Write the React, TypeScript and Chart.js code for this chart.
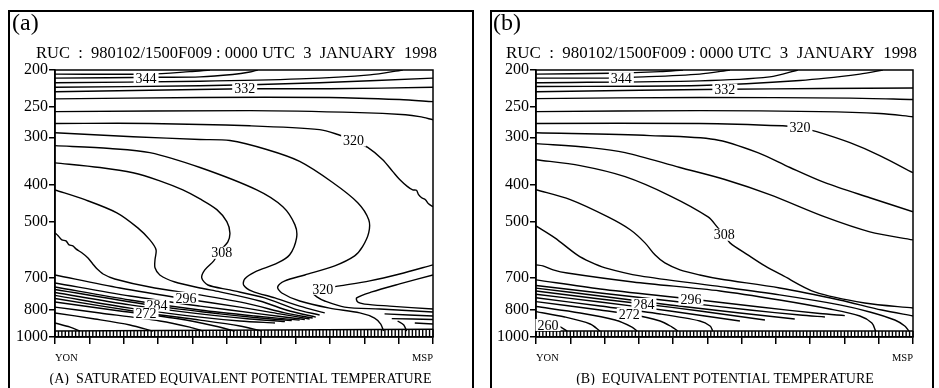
import React, { useEffect, useRef } from 'react';
import { Chart, registerables } from 'chart.js';

Chart.register(...registerables);

type Pt = [number, number];
type Lbl = [string, number, number];

const SERIF = '"Liberation Serif", "Times New Roman", Times, serif';

// ---- axes / text data ----
const distanceMin = 0;
const distanceMax = 11;
const stationNames = ['YON', 'MSP'];
const pressureTicks = [200, 250, 300, 400, 500, 700, 850, 1000];
const pressureTickLabels = ['200', '250', '300', '400', '500', '700', '800', '1000'];
const headerText = 'RUC  :  980102/1500F009 : 0000 UTC  3  JANUARY  1998';
const captionA = '(A)  SATURATED EQUIVALENT POTENTIAL TEMPERATURE';
const captionB = '(B)  EQUIVALENT POTENTIAL TEMPERATURE';

// terrain (surface pressure, hPa) along the section
const terrainDistance = [0, 11];
const terrainA = [965, 955];
const terrainB = [965, 965];

// ---- Panel A: saturated equivalent potential temperature contours [distance, hPa] ----
const A348: Pt[] = [[0, 205], [2.76, 205], [3.92, 202], [4.51, 200]];
const A344: Pt[] = [[0, 210], [3.05, 209], [4.22, 208.5], [5.17, 205.5], [5.67, 202.5], [5.9, 200]];
const A340: Pt[] = [[0, 216], [4.22, 214], [7.12, 211], [9.16, 206], [10.12, 200]];
const A336: Pt[] = [[0, 222], [4.22, 220], [7.7, 216], [11, 210]];
const A332: Pt[] = [[0, 228], [2.76, 226], [5.52, 224], [7.99, 224], [11, 222]];
const A328: Pt[] = [[0, 238], [4.22, 236], [7.99, 236], [10.03, 239], [11, 242]];
const A324: Pt[] = [[0, 257], [5.67, 255.5], [8.87, 258.6], [10.2, 262], [10.61, 265], [11, 270]];
const A320: Pt[] = [[0, 276], [2.76, 276], [5.67, 280], [7.7, 286.5], [8.23, 295], [8.69, 306], [9.1, 319], [9.53, 343], [9.83, 369], [10.03, 387], [10.26, 404], [10.41, 412], [10.52, 413], [10.58, 424], [10.67, 432], [10.78, 437], [10.87, 448], [11, 456]];
const A316: Pt[] = [[0, 292], [2.27, 299], [4.22, 304], [5.09, 306], [6.16, 323], [7.12, 347], [8.08, 394], [8.81, 445], [9.13, 493], [9.13, 533], [8.95, 580], [8.72, 613], [8.14, 651], [7.27, 688], [6.69, 713], [6.48, 740], [6.6, 767], [7.12, 805], [7.99, 840], [8.87, 865], [9.3, 892], [9.48, 925], [9.56, 965]];
const A312: Pt[] = [[0, 315.5], [1.6, 321], [2.76, 329], [4.22, 360], [5.87, 412], [6.63, 456], [6.98, 508], [7.03, 550], [6.83, 609], [6.48, 640], [5.81, 676], [5.52, 705], [5.49, 731], [5.73, 758], [6.4, 790], [7.12, 830], [7.85, 865]];
const A308: Pt[] = [[0, 350], [1.31, 360], [2.27, 371.5], [3.05, 390], [3.72, 412], [4.22, 435], [4.71, 464], [5, 499], [5.09, 534], [5.03, 563.5], [4.85, 588], [4.74, 606], [4.62, 632], [4.36, 667], [4.27, 700], [4.45, 731], [5.09, 753], [6.1, 790], [6.98, 845], [7.7, 876]];
const A304: Pt[] = [[0, 412], [0.87, 437], [1.8, 473], [2.41, 518], [2.76, 557], [2.94, 591], [2.91, 628], [2.91, 659], [3.05, 688], [3.49, 718], [4.22, 744], [4.8, 762], [5.96, 805], [6.83, 855], [7.59, 887]];
const A300: Pt[] = [[0, 534], [0.09, 543], [0.2, 557], [0.32, 560], [0.41, 574], [0.52, 577], [0.61, 588], [0.78, 602], [0.96, 621], [1.1, 644], [1.22, 663], [1.4, 684], [1.74, 705], [2.76, 740], [4.22, 776], [5.67, 820], [6.69, 865], [7.5, 892]];
const A296: Pt[] = [[0, 688], [1.89, 744], [3.81, 795], [5.38, 835], [6.54, 870], [7.41, 897]];
const A292: Pt[] = [[0, 722], [2.18, 781], [4.22, 830], [5.96, 870], [7.27, 900]];
const A288: Pt[] = [[0, 740], [2.18, 800], [4.22, 850], [5.81, 881], [7.12, 903]];
const A284: Pt[] = [[0, 751], [2.97, 830], [4.8, 870], [5.96, 892], [6.89, 905]];
const A280: Pt[] = [[0, 765], [2.18, 824], [4.22, 870], [5.67, 897], [6.69, 911]];
const A276: Pt[] = [[0, 778], [2.18, 840], [4.22, 887], [5.38, 908], [6.4, 919]];
const A272: Pt[] = [[0, 793], [2.65, 865], [4.22, 903], [5.38, 936], [6.02, 965]];
const A268: Pt[] = [[0, 810], [1.89, 855], [3.63, 897], [4.65, 936], [5.23, 965]];
const A264: Pt[] = [[0, 835], [1.31, 865], [3.05, 908], [3.92, 942], [4.3, 965]];
const A260: Pt[] = [[0, 865], [1.16, 897], [2.18, 930], [2.85, 965]];
const A256: Pt[] = [[0, 919], [0.44, 942], [0.73, 965]];
const A320tongue: Pt[] = [[11, 647.5], [10.03, 684], [9.16, 713], [8.28, 735], [7.85, 746], [7.56, 756], [7.5, 766], [7.62, 785], [7.85, 805], [8.43, 835], [9.45, 845], [11, 860]];
const A324tongue: Pt[] = [[11, 688], [10.03, 726], [9.22, 762], [8.78, 790], [8.81, 810], [9.01, 820], [9.74, 830], [11, 845]];
const A312east: Pt[] = [[9.59, 870], [11, 881]];
const A308east: Pt[] = [[9.8, 895], [11, 900]];
const A304east: Pt[] = [[9.97, 908], [10.15, 930], [10.23, 965]];
const A300east: Pt[] = [[10.47, 919], [11, 925]];

const contoursA: Pt[][] = [A348, A344, A340, A336, A332, A328, A324, A320, A316, A312, A308, A304, A300, A296, A292, A288, A284, A280, A276, A272, A268, A264, A260, A256, A320tongue, A324tongue, A312east, A308east, A304east, A300east];
const labelsA: Lbl[] = [['344', 2.65, 210], ['332', 5.52, 224], ['320', 8.69, 306], ['308', 4.85, 602], ['296', 3.81, 790], ['284', 2.97, 826], ['272', 2.65, 868], ['320', 7.79, 748]];

// ---- Panel B: equivalent potential temperature contours [distance, hPa] ----
const B348: Pt[] = [[0, 205], [2.16, 204], [3.62, 202], [4.29, 200]];
const B344: Pt[] = [[0, 210], [2.08, 210], [2.83, 209], [4.78, 205], [5.66, 200]];
const B340: Pt[] = [[0, 216], [4.78, 213.5], [6.82, 208.5], [7.64, 200]];
const B336: Pt[] = [[0, 221], [4.78, 219.6], [7.7, 213], [9.45, 205], [10.12, 200]];
const B332: Pt[] = [[0, 228], [3.04, 226], [5.51, 224.7], [8.28, 223.6], [11, 223]];
const B328: Pt[] = [[0, 237.6], [4.78, 236], [9.16, 237], [11, 239]];
const B324: Pt[] = [[0, 257], [4.78, 255.5], [8.28, 257], [10.03, 260], [11, 265]];
const B320: Pt[] = [[0, 276], [4.78, 276], [7.2, 280], [7.7, 283], [8.19, 290], [9.16, 310], [10.03, 335], [11, 371.5]];
const B316: Pt[] = [[0, 292], [3.33, 297], [5.22, 304], [6.47, 329], [7.41, 360], [8.43, 394.5], [9.74, 432], [11, 470]];
const B312: Pt[] = [[0, 311.7], [1.58, 319.4], [2.6, 329], [4.2, 360], [5.51, 387], [6.82, 424], [8.43, 485], [9.74, 530.5], [11, 557]];
const B308: Pt[] = [[0, 343.4], [1.29, 356], [2.6, 380.5], [3.91, 427], [5.02, 485], [5.31, 518], [5.49, 540], [5.66, 567], [6.18, 609.5], [6.68, 651.5], [7.17, 688], [8.13, 762], [9.59, 814.6], [11, 839.5]];
const B304: Pt[] = [[0, 411.6], [1, 437], [2.1, 485], [2.75, 524], [3.18, 567], [3.47, 609.5], [3.76, 640], [4.2, 667], [4.78, 688], [5.37, 705], [7.11, 744], [8.86, 800], [10.09, 850], [11, 881]];
const B302: Pt[] = [[0, 511.6], [0.55, 550], [1.2, 609.5], [1.58, 636], [2.02, 659], [3.04, 692], [5.22, 735], [7.11, 776], [8.86, 824], [9.74, 860], [10.47, 902.6], [10.76, 936], [10.88, 965]];
const B300: Pt[] = [[0, 647.5], [0.2, 651.5], [0.5, 667], [0.91, 680], [2.83, 717.6], [5.37, 757.6], [7.11, 800], [8.57, 844.6], [9.45, 881], [9.8, 919], [9.91, 965]];
const B296: Pt[] = [[0, 708.6], [1.87, 748.5], [4.52, 795], [6.53, 834.5], [8.28, 868], [9.01, 879]];
const B292: Pt[] = [[0, 733], [1.87, 767], [4.2, 810], [6.24, 850], [7.7, 876], [8.43, 886.5]];
const B288: Pt[] = [[0, 745], [1.87, 781], [3.91, 824.4], [5.95, 865], [7.55, 897]];
const B284: Pt[] = [[0, 757.6], [1.87, 795], [3.15, 819.5], [4.78, 855], [6.68, 902.6]];
const B280: Pt[] = [[0, 772.8], [1.87, 809.7], [3.91, 855], [5.95, 908]];
const B276: Pt[] = [[0, 789], [1.87, 829.5], [3.62, 870.5], [4.78, 908], [5.08, 936], [5.16, 965]];
const B272: Pt[] = [[0, 808], [1.87, 849.7], [2.72, 870.5], [3.62, 908], [3.97, 941.7], [4.14, 965]];
const B268: Pt[] = [[0, 832], [1.29, 865], [2.31, 902.6], [2.8, 941.7], [2.95, 965]];
const B264: Pt[] = [[0, 858], [0.84, 886.5], [1.58, 924.7], [1.87, 965]];
const B260: Pt[] = [[0, 908], [0.65, 936], [0.91, 965]];

const contoursB: Pt[][] = [B348, B344, B340, B336, B332, B328, B324, B320, B316, B312, B308, B304, B302, B300, B296, B292, B288, B284, B280, B276, B272, B268, B264, B260];
const labelsB: Lbl[] = [['344', 2.49, 210], ['332', 5.51, 225], ['320', 7.7, 283], ['308', 5.49, 540], ['296', 4.52, 797], ['284', 3.15, 819.5], ['272', 2.72, 870], ['260', 0.35, 930]];

// ---- layout (page pixels) ----
interface PanelCfg {
  letter: string;
  caption: string;
  contours: Pt[][];
  labels: Lbl[];
  terrain: number[];
  boxLeft: number;
  boxWidth: number;
  canvasWidth: number;
  yAxisWidth: number;
  padRight: number;
  letterX: number;
  headerX: number;
  headerW: number;
  captionX: number;
}

const panels: PanelCfg[] = [
  { letter: '(a)', caption: captionA, contours: contoursA, labels: labelsA, terrain: terrainA,
    boxLeft: 8, boxWidth: 466, canvasWidth: 462, yAxisWidth: 45, padRight: 39,
    letterX: 2, headerX: 26, headerW: 401, captionX: 230.5 },
  { letter: '(b)', caption: captionB, contours: contoursB, labels: labelsB, terrain: terrainB,
    boxLeft: 490, boxWidth: 444, canvasWidth: 440, yAxisWidth: 44, padRight: 19,
    letterX: 1, headerX: 14, headerW: 411, captionX: 233 },
];

const CANVAS_H = 373;
const PLOT_TOP = 58;
const X_AXIS_H = 48;

function interp(xs: number[], ys: number[], x: number): number {
  if (x <= xs[0]) return ys[0];
  for (let i = 1; i < xs.length; i++) {
    if (x <= xs[i]) {
      const t = (x - xs[i - 1]) / (xs[i] - xs[i - 1]);
      return ys[i - 1] + t * (ys[i] - ys[i - 1]);
    }
  }
  return ys[ys.length - 1];
}

function Panel({ cfg }: { cfg: PanelCfg }) {
  const ref = useRef<HTMLCanvasElement>(null);
  useEffect(() => {
    const canvas = ref.current!;
    const datasets: any[] = cfg.contours.map((pts) => ({
      data: pts.map(([x, y]) => ({ x, y })),
      borderColor: '#000',
      borderWidth: 1.4,
      pointRadius: 0,
      tension: 0.3,
      fill: false,
    }));
    datasets.push({
      data: terrainDistance.map((x, i) => ({ x, y: cfg.terrain[i] })),
      borderColor: '#000',
      borderWidth: 1.5,
      pointRadius: 0,
      tension: 0,
      fill: false,
    });

    const decor = {
      id: 'decor',
      afterDatasetsDraw(chart: any) {
        const { ctx, chartArea: ca } = chart;
        const xs = chart.scales.x;
        const ys = chart.scales.y;
        ctx.save();
        // terrain hatch
        ctx.strokeStyle = '#000';
        ctx.lineWidth = 1.4;
        const bottom = ys.getPixelForValue(1000);
        const step = 0.1;
        for (let u = distanceMin; u <= distanceMax + 1e-6; u += step) {
          const x = xs.getPixelForValue(u);
          const top = ys.getPixelForValue(interp(terrainDistance, cfg.terrain, u));
          ctx.beginPath();
          ctx.moveTo(x, top);
          ctx.lineTo(x, bottom);
          ctx.stroke();
        }
        // frame
        ctx.lineWidth = 1.5;
        ctx.strokeRect(ca.left, ca.top, ca.right - ca.left, ca.bottom - ca.top);
        // contour labels
        ctx.font = `14px ${SERIF}`;
        ctx.textAlign = 'center';
        ctx.textBaseline = 'middle';
        for (const [t, u, p] of cfg.labels) {
          const x = xs.getPixelForValue(u);
          const y = ys.getPixelForValue(p);
          const w = ctx.measureText(t).width;
          ctx.fillStyle = '#fff';
          ctx.fillRect(x - w / 2 - 2, y - 6, w + 4, 12);
          ctx.fillStyle = '#000';
          ctx.fillText(t, x, y + 1);
        }
        ctx.restore();
      },
      afterDraw(chart: any) {
        const ctx = chart.ctx;
        ctx.save();
        ctx.fillStyle = '#000';
        ctx.textBaseline = 'alphabetic';
        ctx.textAlign = 'left';
        ctx.font = `24px ${SERIF}`;
        ctx.fillText(cfg.letter, cfg.letterX, 18);
        ctx.font = `16px ${SERIF}`;
        const w = ctx.measureText(headerText).width;
        ctx.save();
        ctx.translate(cfg.headerX, 46);
        ctx.scale(cfg.headerW / w, 1);
        ctx.fillText(headerText, 0, 0);
        ctx.restore();
        ctx.font = `14px ${SERIF}`;
        ctx.textAlign = 'center';
        ctx.fillText(cfg.caption, cfg.captionX, 371);
        ctx.restore();
      },
    };

    const chart = new Chart(canvas, {
      type: 'line',
      data: { datasets },
      options: {
        animation: false,
        responsive: false,
        devicePixelRatio: 1,
        layout: { padding: { left: 0, top: PLOT_TOP, right: cfg.padRight, bottom: 0 } },
        plugins: {
          legend: { display: false },
          tooltip: { enabled: false },
          title: { display: false },
        },
        scales: {
          x: {
            type: 'linear',
            min: distanceMin,
            max: distanceMax,
            afterFit: (s: any) => { s.height = X_AXIS_H; },
            ticks: {
              stepSize: 1,
              autoSkip: false,
              maxRotation: 0,
              align: 'inner',
              color: '#000',
              padding: 8,
              font: { family: SERIF, size: 10.5 },
              callback: (v: any) => (v === distanceMin ? stationNames[0] : v === distanceMax ? stationNames[1] : ''),
            },
            grid: { display: true, drawOnChartArea: false, drawTicks: true, tickLength: 7, color: '#000', lineWidth: 1.5 },
            border: { display: true, color: '#000', width: 1.5 },
          },
          y: {
            type: 'logarithmic',
            reverse: true,
            min: 200,
            max: 1000,
            afterFit: (s: any) => { s.width = cfg.yAxisWidth; },
            afterBuildTicks: (s: any) => { s.ticks = pressureTicks.map((v) => ({ value: v })); },
            ticks: {
              autoSkip: false,
              color: '#000',
              padding: 1,
              font: { family: SERIF, size: 16 },
              callback: (v: any) => {
                const i = pressureTicks.indexOf(Number(v));
                return i >= 0 ? pressureTickLabels[i] : '';
              },
            },
            grid: { display: true, drawOnChartArea: false, drawTicks: true, tickLength: 6, color: '#000', lineWidth: 1.5 },
            border: { display: true, color: '#000', width: 1.5 },
          },
        },
      } as any,
      plugins: [decor],
    });
    return () => chart.destroy();
  }, [cfg]);

  return (
    <>
      <div
        style={{
          position: 'absolute', left: cfg.boxLeft, top: 10, width: cfg.boxWidth, height: 382,
          border: '2px solid #000', boxSizing: 'border-box',
        }}
      />
      <canvas
        ref={ref}
        width={cfg.canvasWidth}
        height={CANVAS_H}
        style={{ position: 'absolute', left: cfg.boxLeft + 2, top: 12, width: cfg.canvasWidth, height: CANVAS_H, display: 'block' }}
      />
    </>
  );
}

export default function App() {
  return (
    <div style={{ position: 'fixed', left: 0, top: 0, width: 939, height: 388, background: '#fff', overflow: 'hidden' }}>
      {panels.map((p) => (
        <Panel key={p.letter} cfg={p} />
      ))}
    </div>
  );
}
